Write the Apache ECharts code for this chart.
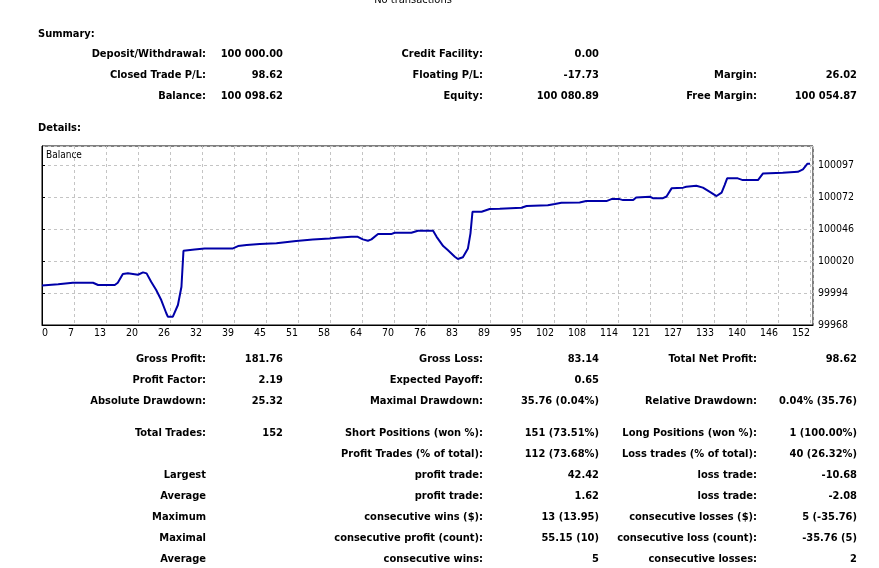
<!DOCTYPE html>
<html><head><meta charset="utf-8">
<script src="https://cdn.jsdelivr.net/npm/echarts@6/dist/echarts.min.js"></script>
<style>
html,body{margin:0;padding:0;background:#fff;}
#wrap{position:relative;width:879px;height:568px;overflow:hidden;}
#chart{position:absolute;left:0;top:0;width:879px;height:568px;}
.t{position:absolute;white-space:nowrap;font-family:'DejaVu Sans Condensed','DejaVu Sans',sans-serif;font-stretch:condensed;font-weight:bold;font-size:11px;line-height:14px;color:#000;}
.n{font-weight:normal;}
</style></head><body><div id="wrap"><div id="chart"></div></div>
<script>
// ---- chart data (trade number, balance) ----
const tradeIdx = [0,3.2,6.1,10.1,11.1,14.4,15.0,16.0,17.0,19.0,20.0,20.7,21.6,22.6,23.6,24.6,24.9,25.9,26.9,27.6,28.0,30.2,32.2,37.8,38.8,40.5,43.1,46.4,50.3,53.6,56.9,58.3,61.2,62.5,63.5,64.5,65.2,66.5,69.1,69.8,73.1,74.4,77.4,78.1,79.4,80.3,81.7,82.3,83.3,84.3,84.8,85.2,87.0,88.6,90.6,94.9,95.9,100.1,101.5,102.8,106.4,107.7,111.7,112.7,114.3,115.0,117.0,117.6,120.3,120.9,122.9,123.6,124.6,126.9,127.5,129.5,130.8,132.1,133.5,134.5,135.1,135.6,137.7,138.7,141.7,142.7,146.6,149.6,150.6,151.5,152];
const balance = [100000,100001,100002.2,100002.2,100000.4,100000.4,100002.2,100009.3,100009.8,100008.7,100010.6,100009.8,100003,99996.3,99988.2,99977.5,99974.7,99974.7,99984.2,99999,100028.1,100029.2,100030,100030,100031.9,100032.7,100033.5,100034.1,100036,100037.3,100038.1,100038.6,100039.4,100039.4,100037.3,100036.2,100037.3,100041.6,100041.6,100042.7,100042.7,100044.3,100044.3,100039.4,100031.9,100028.7,100023.3,100021.4,100022.8,100030,100042.2,100059.7,100059.7,100061.9,100062.1,100062.9,100064.3,100064.9,100065.9,100066.9,100067.2,100068.3,100068.3,100069.9,100069.9,100069.1,100069.1,100071.3,100071.8,100070.7,100070.7,100072,100078.6,100079.2,100079.9,100080.7,100079.2,100075.9,100072.4,100075.1,100081.3,100086.7,100086.7,100085.3,100085.3,100090.7,100091.3,100092,100094,100098.6,100098.62];
const xTickLabels = ['0','7','13','20','26','32','39','45','51','58','64','70','76','83','89','95','102','108','114','121','127','133','140','146','152'];
const yTickLabels = ['99968','99994','100020','100046','100072','100097'];
const seriesName = 'Balance';

// ---- report text ----
const topNote = 'No transactions';
const summaryTitle = 'Summary:';
const detailsTitle = 'Details:';
const summaryRows = [
  ['Deposit/Withdrawal:','100 000.00','Credit Facility:','0.00','',''],
  ['Closed Trade P/L:','98.62','Floating P/L:','-17.73','Margin:','26.02'],
  ['Balance:','100 098.62','Equity:','100 080.89','Free Margin:','100 054.87']
];
const detailRows = [
  ['Gross Profit:','181.76','Gross Loss:','83.14','Total Net Profit:','98.62'],
  ['Profit Factor:','2.19','Expected Payoff:','0.65','',''],
  ['Absolute Drawdown:','25.32','Maximal Drawdown:','35.76 (0.04%)','Relative Drawdown:','0.04% (35.76)'],
  ['Total Trades:','152','Short Positions (won %):','151 (73.51%)','Long Positions (won %):','1 (100.00%)'],
  ['','','Profit Trades (% of total):','112 (73.68%)','Loss trades (% of total):','40 (26.32%)'],
  ['Largest','','profit trade:','42.42','loss trade:','-10.68'],
  ['Average','','profit trade:','1.62','loss trade:','-2.08'],
  ['Maximum','','consecutive wins ($):','13 (13.95)','consecutive losses ($):','5 (-35.76)'],
  ['Maximal','','consecutive profit (count):','55.15 (10)','consecutive loss (count):','-35.76 (5)'],
  ['Average','','consecutive wins:','5','consecutive losses:','2']
];

// ---- layout ----
const W = 879;
const colRight = [206, 283, 483, 599, 757, 857];
const summaryY = [54, 75, 96];
const detailY = [359, 380, 401, 433, 454, 475, 496, 517, 538, 559];
const wrap = document.getElementById('wrap');
function addText(txt, opts) {
  if (!txt) return;
  const d = document.createElement('div');
  d.className = 't' + (opts.normal ? ' n' : '');
  d.textContent = txt;
  d.style.top = (opts.cy - 7) + 'px';
  if (opts.right != null) d.style.right = (W - opts.right) + 'px';
  if (opts.left != null) d.style.left = opts.left + 'px';
  wrap.appendChild(d);
}
function addRows(rows, ys) {
  rows.forEach((r, i) => r.forEach((txt, j) => addText(txt, {cy: ys[i], right: colRight[j]})));
}
addText(summaryTitle, {cy: 34, left: 38});
addText(detailsTitle, {cy: 128, left: 38});
addRows(summaryRows, summaryY);
addRows(detailRows, detailY);
(function(){
  const d = document.createElement('div');
  d.className = 't n';
  d.textContent = topNote;
  d.style.top = '-7px';
  d.style.left = '0px';
  d.style.width = '826px';
  d.style.textAlign = 'center';
  wrap.appendChild(d);
})();

// ---- chart ----
const xInterval = 152 / 24;
const yMin = 99968, yInterval = 25.9;
const chart = echarts.init(document.getElementById('chart'), null, {renderer: 'canvas'});
const axisFont = {fontFamily: "'Liberation Sans Narrow', 'DejaVu Sans Condensed', sans-serif", fontSize: 10.5, color: '#000'};
chart.setOption({
  animation: false,
  backgroundColor: 'transparent',
  grid: {left: 42, top: 146, width: 771, height: 179, show: true, borderColor: '#000', borderWidth: 1, containLabel: false},
  graphic: [{type: 'text', left: 46, top: 150, style: {text: seriesName, fill: '#000', font: "10px 'Liberation Sans Narrow', 'DejaVu Sans Condensed', sans-serif"}}],
  xAxis: {
    type: 'value', min: 0, max: 152.59, interval: xInterval,
    axisLine: {show: true, lineStyle: {color: '#000', width: 1}},
    axisTick: {show: false},
    splitLine: {show: true, lineStyle: {color: '#c4c4c4', type: [3, 3], width: 1}},
    axisLabel: Object.assign({
      margin: 3, align: 'right', alignMinLabel: 'left', showMinLabel: true, showMaxLabel: false,
      formatter: v => { const k = Math.round(v / xInterval); return Math.abs(v - k * xInterval) < 1e-6 ? (xTickLabels[k] || '') : ''; }
    }, axisFont)
  },
  yAxis: {
    type: 'value', position: 'right', min: yMin, max: 100112.9, interval: yInterval,
    axisLine: {show: true, lineStyle: {color: '#000', width: 1}},
    axisTick: {show: true, length: 3, lineStyle: {color: '#000'}},
    splitLine: {show: true, lineStyle: {color: '#c4c4c4', type: [3, 3], width: 1}},
    axisLabel: Object.assign({
      margin: 5, align: 'left', showMinLabel: true, showMaxLabel: false,
      formatter: v => { const k = Math.round((v - yMin) / yInterval); return Math.abs(v - yMin - k * yInterval) < 1e-6 ? (yTickLabels[k] || '') : ''; }
    }, axisFont)
  },
  series: [{
    name: seriesName, type: 'line', showSymbol: false, symbol: 'none',
    data: tradeIdx.map((t, i) => [t, balance[i]]),
    lineStyle: {color: '#0000a8', width: 2}, clip: true
  }]
});
</script></body></html>
